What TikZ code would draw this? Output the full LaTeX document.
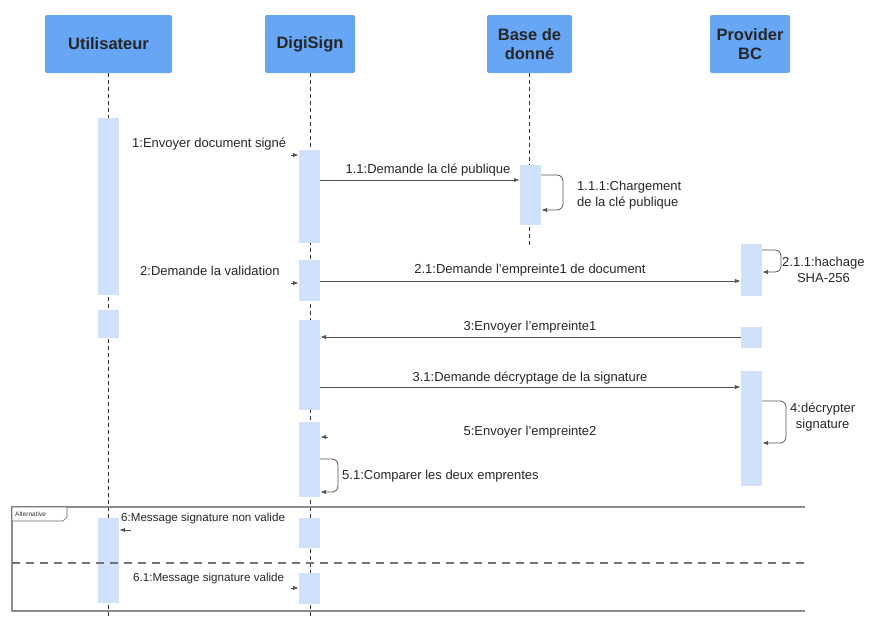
\documentclass[tikz,border=0pt]{standalone}
\usepackage{fontspec}
\setmainfont{Liberation Sans}
\usetikzlibrary{arrows.meta}
\definecolor{headblue}{HTML}{66A6F5}
\definecolor{barblue}{HTML}{CFE1FB}
\definecolor{linegray}{HTML}{555555}
\tikzset{
  actor/.style={draw=none, fill=headblue, rounded corners=2pt, font=\fontsize{16.5}{19}\selectfont\bfseries,
    text=black!85, align=center, minimum height=58pt, inner sep=2pt},
  lifeline/.style={draw=black!80, line width=0.8pt, dash pattern=on 4pt off 3pt},
  bar/.style={draw=none, fill=barblue, minimum width=21pt, inner sep=0pt},
  msg/.style={draw=linegray, line width=1pt, -{Latex[length=6pt,width=4.5pt]}},
  tip/.style={draw=linegray, line width=1pt, -{Latex[length=6pt,width=4.5pt]}},
  selfmsg/.style={draw=linegray, line width=0.8pt, rounded corners=6pt, -{Latex[length=6pt,width=4.5pt]}},
  lbl/.style={font=\fontsize{13}{15.5}\selectfont, text=black!85, inner sep=0pt, align=center},
  smalllbl/.style={lbl, font=\fontsize{11.6}{14}\selectfont},
  frame/.style={draw=black!45, line width=1.2pt},
}
\begin{document}
\begin{tikzpicture}[x=1pt,y=-1pt]
\useasboundingbox (0,0) rectangle (870,619);

% participants
\node[actor, minimum width=127pt] (user) at (108.5,44) {Utilisateur};
\node[actor, minimum width=90pt]  (digi) at (310,44) {DigiSign};
\node[actor, minimum width=85pt]  (base) at (529.5,44) {Base de\\donné};
\node[actor, minimum width=80pt]  (prov) at (750,44) {Provider\\BC};

% lifelines
\draw[lifeline] (user.south) -- (user.south |- 0,619);
\draw[lifeline] (digi.south) -- (digi.south |- 0,619);
\draw[lifeline] (base.south) -- (base.south |- 0,245);

% activation bars
\node[bar, minimum height=177pt] (u1) at (108.5,206.5) {};
\node[bar, minimum height=28pt]  (u2) at (108.5,324) {};
\node[bar, minimum height=85pt]  (u3) at (108.5,560.5) {};

\node[bar, minimum height=93pt] (d1) at (309.5,196.5) {};
\node[bar, minimum height=41pt] (d2) at (309.5,280.5) {};
\node[bar, minimum height=90pt] (d3) at (309.5,365) {};
\node[bar, minimum height=75pt] (d4) at (309.5,459.5) {};
\node[bar, minimum height=30pt] (d5) at (309.5,533) {};
\node[bar, minimum height=31pt] (d6) at (309.5,588.5) {};

\node[bar, minimum height=60pt] (b1) at (530.5,195) {};

\node[bar, minimum height=52pt]  (p1) at (751.5,270) {};
\node[bar, minimum height=21pt]  (p2) at (751.5,337.5) {};
\node[bar, minimum height=115pt] (p3) at (751.5,428.5) {};

% 1 : user -> DigiSign
\coordinate (m1) at (291,155);
\draw[tip] (m1) -- (d1.west |- m1);
\node[lbl, anchor=base west] (t1) at (132,147) {1:Envoyer document signé};

% 1.1 : DigiSign -> Base
\draw[msg] (d1.east |- 0,180) -- (b1.west |- 0,180);
\node[lbl, anchor=base] (t11) at (428,173) {1.1:Demande la clé publique};

% 1.1.1 : self call on Base
\draw[selfmsg] (b1.east |- 0,175) -- (563,175) -- (563,210) -- (b1.east |- 0,210);
\node[lbl, anchor=west, align=left] (t111) at (577,195) {1.1.1:Chargement\\de la clé publique};

% 2 : user -> DigiSign
\coordinate (m2) at (291,283);
\draw[tip] (m2) -- (d2.west |- m2);
\node[lbl, anchor=base west] (t2) at (140,275) {2:Demande la validation};

% 2.1 : DigiSign -> Provider
\draw[msg] (d2.east |- 0,281) -- (p1.west |- 0,281);
\node[lbl, anchor=base] (t21) at (530,273) {2.1:Demande l'empreinte1 de document};

% 2.1.1 : self call on Provider
\draw[selfmsg] (p1.east |- 0,250) -- (781,250) -- (781,272) -- (p1.east |- 0,272);
\node[lbl, anchor=west] (t211) at (782,270) {2.1.1:hachage\\SHA-256};

% 3 : Provider -> DigiSign
\draw[msg] (p2.west |- 0,337) -- (d3.east |- 0,337);
\node[lbl, anchor=base] (t3) at (530,330) {3:Envoyer l'empreinte1};

% 3.1 : DigiSign -> Provider
\draw[msg] (d3.east |- 0,387) -- (p3.west |- 0,387);
\node[lbl, anchor=base] (t31) at (530,381) {3.1:Demande décryptage de la signature};

% 4 : self call on Provider
\draw[selfmsg] (p3.east |- 0,401) -- (786,401) -- (786,443) -- (p3.east |- 0,443);
\node[lbl, anchor=west] (t4) at (790,417) {4:décrypter\\signature};

% 5 : Provider -> DigiSign
\coordinate (m5) at (328,437);
\draw[tip] (m5) -- (d4.east |- m5);
\node[lbl, anchor=base] (t5) at (530,435) {5:Envoyer l'empreinte2};

% 5.1 : self call on DigiSign
\draw[selfmsg] (d4.east |- 0,459) -- (338,459) -- (338,492) -- (d4.east |- 0,492);
\node[lbl, anchor=west] (t51) at (342,476) {5.1:Comparer les deux emprentes};

% alternative fragment
\draw[frame] (805,507) -- (12,507) -- (12,611) -- (805,611);
\draw[draw=black!60, line width=0.6pt, fill=white] (12,507) -- (67,507) -- (67,517) -- (63,521) -- (12,521) -- cycle;
\node[font=\fontsize{6.5}{7}\selectfont, text=black!80, anchor=west, inner sep=0pt] (alt) at (15,514) {Alternative};
\draw[draw=black!55, line width=1.6pt, dash pattern=on 8pt off 6pt] (12,563) -- (805,563);

% 6 : DigiSign -> user
\coordinate (m6) at (131,530);
\draw[tip] (m6) -- (u3.east |- m6);
\node[smalllbl, anchor=base west] (t6) at (121,521) {6:Message signature non valide};

% 6.1 : user -> DigiSign
\coordinate (m61) at (291,588);
\draw[tip] (m61) -- (d6.west |- m61);
\node[smalllbl, anchor=base west] (t61) at (133,581) {6.1:Message signature valide};
\end{tikzpicture}
\end{document}
